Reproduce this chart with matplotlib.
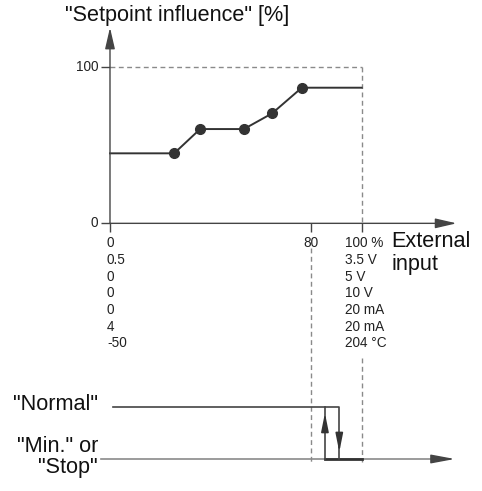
import matplotlib
matplotlib.use("Agg")
import matplotlib.pyplot as plt
from matplotlib.markers import TICKDOWN, TICKLEFT

plt.rcParams["font.family"] = ["Liberation Sans", "DejaVu Sans"]

# curve: flat start, breakpoints, flat end
curve_x = [0, 25.5, 35.8, 53.2, 64.4, 76.2, 100]
curve_y = [44.7, 44.7, 60.2, 60.2, 70.2, 86.6, 86.6]
point_x = curve_x[1:-1]
point_y = curve_y[1:-1]

x_ticks = [0, 80, 100]
y_ticks = [0, 100]
left_labels = ["0", "0.5", "0", "0", "0", "4", "-50"]
right_labels = ["100 %", "3.5 V", "5 V", "10 V", "20 mA", "20 mA", "204 \u00b0C"]

# hysteresis of the switching output
switch_back_x = 85.4   # back to "Normal"
switch_off_x = 91.1    # to "Min." / "Stop"
normal_level = 1
stop_level = 0

DARK = "#333333"
AXIS = "#444444"
GRAY = "#8a8a8a"
SMALL = 9.8
BIG = 15.6


def main():
    fig = plt.figure(figsize=(4.82, 4.91), dpi=100)
    ax = fig.add_axes([0, 0, 1, 1])
    ax2 = fig.add_axes([0, 0, 1, 1], sharex=ax)
    for a in (ax, ax2):
        a.set_axis_off()
    ax.set_xlim(-43.7, 147.8)
    ax.set_ylim(-170.9, 142.6)
    ax2.set_ylim(-0.612, 8.776)

    # axes with arrows
    arrow = dict(arrowstyle="-|>,head_length=1.3,head_width=0.3", color=AXIS,
                 lw=1.0, shrinkA=0, shrinkB=0, mutation_scale=10)
    ax.annotate("", xy=(0, 125), xytext=(0, 0), arrowprops=arrow)
    ax.annotate("", xy=(137.7, 0), xytext=(0, 0), arrowprops=arrow)
    ax.plot(x_ticks, [0] * len(x_ticks), ls="none", marker=TICKDOWN,
            ms=6.5, mew=1.0, color=AXIS)
    ax.plot([0] * len(y_ticks), y_ticks, ls="none", marker=TICKLEFT,
            ms=6.5, mew=1.0, color=AXIS)

    # dashed limits
    dash = dict(color=GRAY, lw=1.0, ls=(0, (3.5, 2.5)))
    ax.plot([0, 100], [100, 100], **dash)
    ax.plot([100, 100], [100, 0], **dash)
    ax2.plot([80, 80], [4.03, -0.06], **dash)
    ax2.plot([100, 100], [1.93, -0.06], **dash)

    # characteristic
    ax.plot(curve_x, curve_y, color=DARK, lw=1.4)
    ax.plot(point_x, point_y, ls="none", marker="o", ms=7, color=DARK)

    # tick labels
    for y, t in zip(y_ticks, ["0", "100"]):
        ax.annotate(t, xy=(0, y), xytext=(-8.6, 0), textcoords="offset points",
                    ha="right", va="center", fontsize=SMALL, color="#222222")
    ax.annotate("80", xy=(80, 0), xytext=(0, -14.4), textcoords="offset points",
                ha="center", va="center", fontsize=SMALL, color="#222222")
    for i, (l, r) in enumerate(zip(left_labels, right_labels)):
        ax.annotate(l, xy=(0, 0), xytext=(-2.2, -14.4 - 12 * i),
                    textcoords="offset points", ha="left", va="center",
                    fontsize=SMALL, color="#222222")
        ax.annotate(r, xy=(100, 0), xytext=(-12, -14.4 - 12 * i),
                    textcoords="offset points", ha="left", va="center",
                    fontsize=SMALL, color="#222222")

    fig.text(65 / 482, 1 - 15 / 491, '"Setpoint influence" [%]', ha="left",
             va="center", fontsize=BIG, color="#111111")
    fig.text(391.7 / 482, 1 - 246.7 / 491, "External", ha="left",
             va="baseline", fontsize=BIG, color="#111111")
    fig.text(391.7 / 482, 1 - 270 / 491, "input", ha="left",
             va="baseline", fontsize=BIG, color="#111111")

    # switching output
    ax2.plot([-3.6, 133], [stop_level, stop_level], color=GRAY, lw=1.2)
    ax2.annotate("", xy=(137, stop_level), xytext=(128, stop_level),
                 arrowprops=dict(arrowstyle="-|>,head_length=1.45,head_width=0.27",
                                 color=AXIS, lw=1.0, shrinkA=0, shrinkB=0,
                                 mutation_scale=10))
    ax2.plot([switch_back_x, 100], [stop_level, stop_level], color=DARK, lw=2.0)
    ax2.plot([1.2, switch_off_x, switch_off_x],
             [normal_level, normal_level, stop_level], color=AXIS, lw=1.2)
    ax2.plot([switch_back_x, switch_back_x], [stop_level, normal_level],
             color=AXIS, lw=1.2)
    head = dict(arrowstyle="-|>,head_length=1.1,head_width=0.22", color=DARK,
                lw=1.2, shrinkA=0, shrinkB=0, mutation_scale=10)
    ax2.annotate("", xy=(switch_back_x, 0.88), xytext=(switch_back_x, 0.55),
                 arrowprops=head)
    ax2.annotate("", xy=(switch_off_x, 0.134), xytext=(switch_off_x, 0.47),
                 arrowprops=head)

    fig.text(98 / 482, 1 - 405 / 491, '"Normal"', ha="right", va="center",
             fontsize=BIG, color="#111111")
    fig.text(98 / 482, 1 - 446 / 491, '"Min." or', ha="right", va="center",
             fontsize=BIG, color="#111111")
    fig.text(98 / 482, 1 - 467 / 491, '"Stop"', ha="right", va="center",
             fontsize=BIG, color="#111111")

    plt.savefig("out.png", dpi=100)
    plt.close()


if __name__ == "__main__":
    main()
